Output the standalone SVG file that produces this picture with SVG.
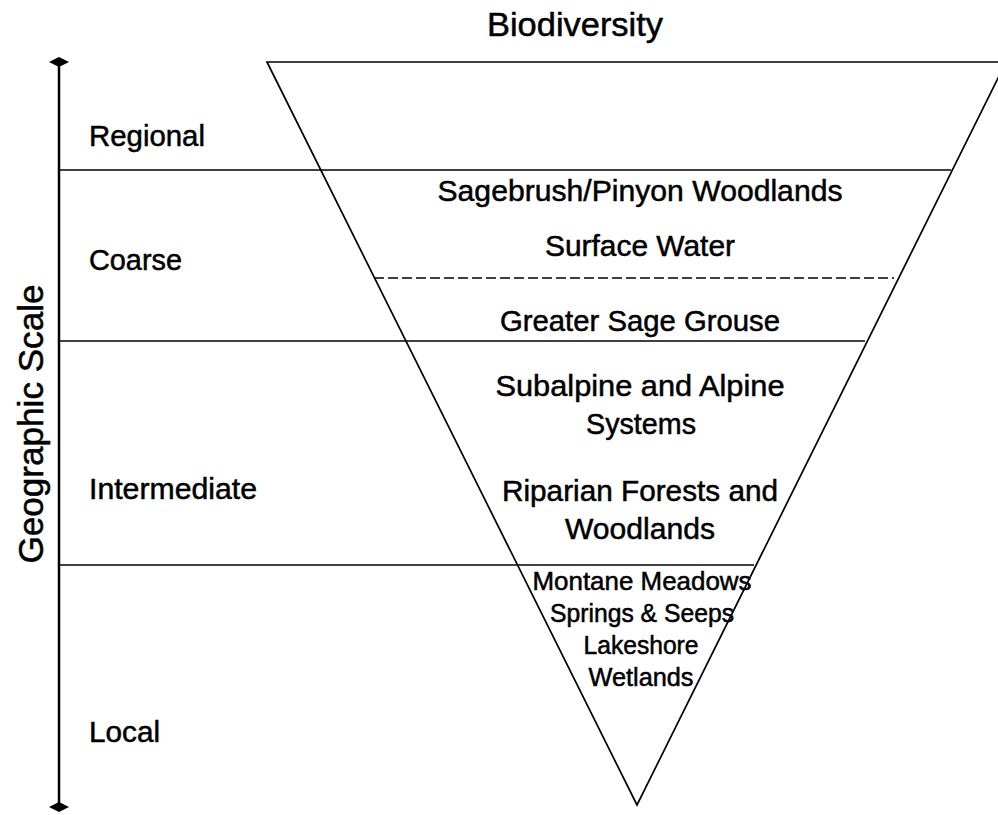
<svg xmlns="http://www.w3.org/2000/svg" width="998" height="815" viewBox="0 0 998 815">
<style>
.t{font-family:"Liberation Sans",Arial,sans-serif;fill:#000;stroke:#000;stroke-width:0.5;}
.big{font-size:29px;text-anchor:middle;}
.lbl{font-size:29px;}
.sm{font-size:25px;text-anchor:middle;}
.ln{stroke:#000;stroke-width:1.7;fill:none;}
</style>
<rect width="998" height="815" fill="#fff"/>
<g id="axis">
<line x1="59" y1="62" x2="59" y2="807" stroke="#000" stroke-width="2.5"/>
<path d="M49,62 L59,57 L69,62 L59,67 Z" fill="#000"/>
<path d="M49,807 L59,802 L69,807 L59,812 Z" fill="#000"/>
<text class="t" font-size="35" text-anchor="middle" textLength="279" lengthAdjust="spacingAndGlyphs" transform="translate(43,424) rotate(-90)">Geographic Scale</text>
</g>
<g id="connectors">
<polygon class="ln" points="267,62 1006,62 637,805" stroke-width="2"/>
<line class="ln" x1="58" y1="170" x2="951" y2="170"/>
<line class="ln" x1="58" y1="341" x2="865" y2="341"/>
<line class="ln" x1="58" y1="565" x2="754" y2="565"/>
<line class="ln" x1="374" y1="278" x2="894" y2="278" stroke-width="2" stroke-dasharray="10,4"/>
</g>
<g id="title"><text class="t" x="575" y="36" font-size="34" text-anchor="middle" textLength="176" lengthAdjust="spacingAndGlyphs">Biodiversity</text></g>
<g id="regional"><text class="t lbl" x="89" y="146" textLength="116" lengthAdjust="spacingAndGlyphs">Regional</text></g>
<g id="coarse"><text class="t lbl" x="89" y="270" textLength="93" lengthAdjust="spacingAndGlyphs">Coarse</text></g>
<g id="intermediate"><text class="t lbl" x="89" y="499" textLength="168" lengthAdjust="spacingAndGlyphs">Intermediate</text></g>
<g id="local"><text class="t lbl" x="89" y="742" textLength="71" lengthAdjust="spacingAndGlyphs">Local</text></g>
<g id="sagebrush"><text class="t big" x="640" y="201" textLength="405" lengthAdjust="spacingAndGlyphs">Sagebrush/Pinyon Woodlands</text></g>
<g id="surface"><text class="t big" x="640" y="256" textLength="190" lengthAdjust="spacingAndGlyphs">Surface Water</text></g>
<g id="grouse"><text class="t big" x="640" y="331" textLength="280" lengthAdjust="spacingAndGlyphs">Greater Sage Grouse</text></g>
<g id="subalpine"><text class="t big" x="640" y="396" textLength="289" lengthAdjust="spacingAndGlyphs">Subalpine and Alpine</text><text class="t big" x="641" y="434" textLength="110" lengthAdjust="spacingAndGlyphs">Systems</text></g>
<g id="riparian"><text class="t big" x="640" y="501" textLength="276" lengthAdjust="spacingAndGlyphs">Riparian Forests and</text><text class="t big" x="640" y="539" textLength="150" lengthAdjust="spacingAndGlyphs">Woodlands</text></g>
<g id="local-types"><text class="t sm" x="642" y="590" textLength="219" lengthAdjust="spacingAndGlyphs">Montane Meadows</text><text class="t sm" x="642" y="622" textLength="184" lengthAdjust="spacingAndGlyphs">Springs &amp; Seeps</text><text class="t sm" x="641" y="654" textLength="115" lengthAdjust="spacingAndGlyphs">Lakeshore</text><text class="t sm" x="641" y="686" textLength="105" lengthAdjust="spacingAndGlyphs">Wetlands</text></g>
</svg>
